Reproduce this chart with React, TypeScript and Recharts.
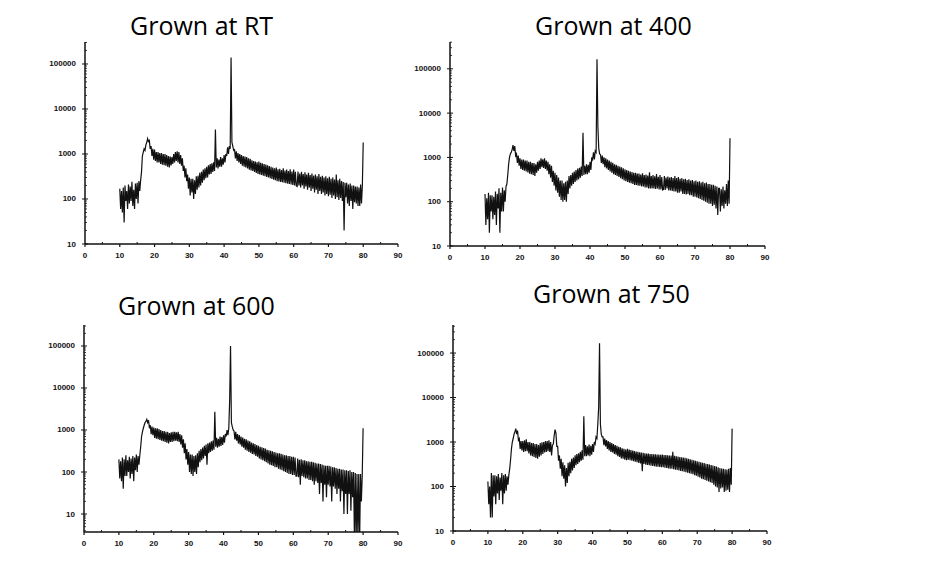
import React from "react";
import { LineChart, Line, XAxis, YAxis } from "recharts";

// 2-theta grid (deg), shared by all four scans: one row per degree
const TWO_THETA = [
  10, 10.25, 10.5, 10.75, 11, 11.25, 11.5, 11.75, 12, 12.25, 12.5, 12.75,
  13, 13.25, 13.5, 13.75, 14, 14.25, 14.5, 14.75, 15, 15.25, 15.5, 15.75,
  16, 16.25, 16.5, 16.75, 17, 17.25, 17.5, 17.75, 18, 18.25, 18.5, 18.75,
  19, 19.25, 19.5, 19.75, 20, 20.25, 20.5, 20.75, 21, 21.25, 21.5, 21.75,
  22, 22.25, 22.5, 22.75, 23, 23.25, 23.5, 23.75, 24, 24.25, 24.5, 24.75,
  25, 25.25, 25.5, 25.75, 26, 26.25, 26.5, 26.75, 27, 27.25, 27.5, 27.75,
  28, 28.25, 28.5, 28.75, 29, 29.25, 29.5, 29.75, 30, 30.25, 30.5, 30.75,
  31, 31.25, 31.5, 31.75, 32, 32.25, 32.5, 32.75, 33, 33.25, 33.5, 33.75,
  34, 34.25, 34.5, 34.75, 35, 35.25, 35.5, 35.75, 36, 36.25, 36.5, 36.75,
  37, 37.25, 37.5, 37.75, 38, 38.25, 38.5, 38.75, 39, 39.25, 39.5, 39.75,
  40, 40.25, 40.5, 40.75, 41, 41.25, 41.5, 41.75, 42, 42.25, 42.5, 42.75,
  43, 43.25, 43.5, 43.75, 44, 44.25, 44.5, 44.75, 45, 45.25, 45.5, 45.75,
  46, 46.25, 46.5, 46.75, 47, 47.25, 47.5, 47.75, 48, 48.25, 48.5, 48.75,
  49, 49.25, 49.5, 49.75, 50, 50.25, 50.5, 50.75, 51, 51.25, 51.5, 51.75,
  52, 52.25, 52.5, 52.75, 53, 53.25, 53.5, 53.75, 54, 54.25, 54.5, 54.75,
  55, 55.25, 55.5, 55.75, 56, 56.25, 56.5, 56.75, 57, 57.25, 57.5, 57.75,
  58, 58.25, 58.5, 58.75, 59, 59.25, 59.5, 59.75, 60, 60.25, 60.5, 60.75,
  61, 61.25, 61.5, 61.75, 62, 62.25, 62.5, 62.75, 63, 63.25, 63.5, 63.75,
  64, 64.25, 64.5, 64.75, 65, 65.25, 65.5, 65.75, 66, 66.25, 66.5, 66.75,
  67, 67.25, 67.5, 67.75, 68, 68.25, 68.5, 68.75, 69, 69.25, 69.5, 69.75,
  70, 70.25, 70.5, 70.75, 71, 71.25, 71.5, 71.75, 72, 72.25, 72.5, 72.75,
  73, 73.25, 73.5, 73.75, 74, 74.25, 74.5, 74.75, 75, 75.25, 75.5, 75.75,
  76, 76.25, 76.5, 76.75, 77, 77.25, 77.5, 77.75, 78, 78.25, 78.5, 78.75,
  79, 79.25, 79.5, 79.75, 80,
];

const INTENSITY_RT = [
  170, 60, 150, 50, 180, 30, 200, 90, 150, 60, 210, 80,
  190, 90, 240, 70, 160, 60, 220, 100, 230, 80, 250, 150,
  260, 400, 900, 1100, 1300, 1200, 1600, 1800, 2200, 1900, 2000, 1300,
  1500, 900, 1300, 750, 1250, 700, 1100, 650, 1100, 650, 1050, 600,
  1050, 580, 1000, 560, 1000, 550, 950, 520, 900, 500, 880, 560,
  850, 600, 1000, 650, 1100, 700, 1150, 650, 1100, 600, 950, 550,
  800, 420, 550, 300, 480, 250, 350, 170, 300, 120, 280, 140,
  280, 100, 260, 130, 320, 160, 330, 180, 380, 200, 400, 230,
  450, 260, 480, 290, 520, 300, 560, 350, 600, 360, 620, 400,
  650, 420, 3500, 500, 800, 480, 750, 520, 850, 520, 800, 580,
  950, 650, 1000, 900, 1400, 1000, 1500, 1300, 140000, 1800, 1500, 1200,
  1250, 800, 1150, 700, 1050, 650, 1000, 600, 950, 550, 900, 520,
  880, 500, 850, 480, 800, 450, 780, 430, 720, 420, 700, 400,
  680, 380, 650, 360, 680, 350, 640, 340, 620, 330, 600, 320,
  580, 310, 560, 300, 540, 290, 520, 280, 500, 270, 480, 260,
  500, 250, 460, 245, 470, 240, 440, 235, 480, 230, 430, 225,
  450, 220, 420, 215, 460, 210, 410, 205, 450, 200, 400, 195,
  190, 410, 200, 370, 180, 400, 200, 360, 170, 390, 190, 350,
  160, 380, 180, 340, 150, 370, 170, 330, 140, 350, 160, 320,
  130, 360, 150, 310, 130, 330, 140, 300, 120, 320, 130, 290,
  115, 310, 125, 280, 105, 300, 120, 270, 100, 350, 110, 260,
  95, 280, 105, 250, 90, 240, 20, 230, 110, 230, 80, 210,
  70, 220, 90, 200, 60, 200, 85, 190, 80, 190, 70, 180,
  70, 210, 80, 200, 1800,
];

const INTENSITY_400 = [
  150, 30, 120, 40, 160, 20, 140, 60, 140, 40, 130, 50,
  170, 30, 150, 70, 200, 20, 160, 60, 210, 60, 180, 100,
  220, 250, 400, 700, 1000, 1200, 1300, 1500, 1900, 1400, 1800, 1100,
  1200, 750, 1100, 650, 950, 550, 900, 520, 900, 500, 850, 480,
  850, 460, 800, 430, 800, 420, 750, 400, 750, 380, 700, 450,
  800, 500, 850, 550, 950, 600, 900, 580, 950, 550, 850, 500,
  800, 420, 700, 350, 650, 280, 500, 230, 450, 180, 400, 160,
  350, 130, 300, 110, 300, 100, 260, 110, 280, 100, 300, 150,
  380, 200, 400, 230, 450, 250, 480, 280, 520, 300, 560, 320,
  580, 350, 620, 380, 3600, 400, 650, 420, 700, 420, 680, 450,
  800, 520, 1000, 900, 1300, 900, 1400, 1300, 165000, 5000, 1600, 1200,
  1150, 750, 1100, 700, 1000, 600, 950, 560, 900, 520, 850, 480,
  800, 450, 760, 420, 700, 400, 680, 380, 650, 360, 620, 340,
  600, 320, 570, 300, 540, 290, 520, 280, 500, 270, 480, 260,
  470, 250, 450, 240, 450, 240, 430, 230, 430, 230, 410, 220,
  440, 220, 400, 210, 410, 210, 390, 200, 460, 200, 380, 200,
  400, 200, 375, 195, 420, 200, 365, 190, 400, 190, 360, 185,
  190, 380, 185, 350, 200, 370, 180, 350, 180, 360, 175, 340,
  170, 380, 170, 340, 160, 360, 160, 330, 170, 340, 150, 320,
  150, 330, 145, 310, 150, 320, 140, 300, 140, 310, 130, 290,
  130, 300, 125, 280, 120, 290, 115, 270, 110, 280, 105, 260,
  100, 270, 95, 250, 90, 250, 90, 240, 80, 240, 85, 230,
  70, 220, 50, 200, 200, 60, 190, 80, 220, 70, 180, 90,
  250, 80, 300, 90, 2700,
];

const INTENSITY_600 = [
  200, 70, 180, 60, 220, 40, 200, 80, 250, 80, 190, 100,
  230, 70, 210, 90, 240, 60, 220, 110, 260, 100, 240, 150,
  250, 400, 700, 900, 1100, 1300, 1500, 1600, 1800, 1500, 1700, 1100,
  1300, 800, 1200, 750, 1150, 650, 1100, 620, 1100, 600, 1050, 580,
  1000, 560, 950, 540, 950, 520, 900, 500, 900, 480, 850, 520,
  880, 520, 900, 540, 900, 560, 880, 540, 900, 520, 800, 450,
  750, 380, 600, 280, 480, 200, 350, 150, 300, 100, 260, 90,
  260, 80, 240, 100, 250, 90, 280, 130, 320, 170, 350, 190,
  380, 210, 420, 240, 450, 150, 480, 280, 500, 300, 540, 320,
  560, 340, 2700, 400, 650, 380, 620, 400, 700, 420, 680, 440,
  750, 500, 800, 700, 1000, 750, 1100, 5000, 100000, 1500, 1200, 1000,
  950, 600, 900, 560, 800, 480, 760, 450, 700, 400, 660, 380,
  620, 340, 600, 320, 560, 300, 540, 290, 500, 270, 480, 260,
  460, 240, 440, 230, 420, 210, 400, 200, 390, 190, 370, 180,
  360, 170, 340, 160, 330, 150, 320, 145, 310, 140, 300, 130,
  290, 130, 280, 120, 280, 115, 270, 110, 260, 105, 250, 100,
  250, 95, 240, 90, 240, 90, 230, 85, 230, 85, 220, 80,
  80, 210, 75, 195, 50, 200, 80, 190, 75, 190, 70, 180,
  70, 180, 65, 175, 65, 175, 60, 170, 50, 165, 60, 160,
  55, 160, 30, 155, 55, 150, 20, 145, 50, 140, 25, 140,
  50, 140, 45, 135, 20, 130, 45, 130, 40, 125, 30, 120,
  40, 120, 20, 115, 35, 115, 10, 110, 30, 110, 10, 105,
  30, 110, 12, 100, 25, 100, 3, 95, 2, 90, 3, 90,
  2, 90, 20, 85, 1100,
];

const INTENSITY_750 = [
  130, 40, 100, 20, 200, 20, 180, 60, 180, 40, 170, 70,
  190, 50, 160, 80, 200, 40, 180, 70, 190, 80, 170, 110,
  180, 250, 400, 700, 1000, 1200, 1500, 1700, 2000, 1500, 1800, 1100,
  1200, 700, 1050, 650, 1050, 600, 1100, 620, 1150, 620, 1000, 550,
  1000, 500, 950, 480, 950, 460, 900, 440, 900, 420, 850, 470,
  950, 500, 980, 540, 1000, 580, 1050, 600, 1050, 620, 1100, 600,
  1000, 500, 850, 900, 1400, 1900, 1600, 800, 800, 380, 500, 250,
  420, 170, 350, 150, 300, 100, 260, 120, 340, 170, 360, 200,
  420, 230, 450, 260, 500, 300, 540, 320, 560, 350, 600, 380,
  650, 400, 3800, 480, 850, 480, 800, 500, 880, 480, 820, 520,
  900, 600, 1000, 900, 1300, 1200, 2500, 6000, 165000, 2500, 1500, 1300,
  1300, 850, 1200, 800, 1100, 700, 1050, 650, 1000, 600, 950, 580,
  900, 540, 860, 520, 820, 480, 780, 460, 760, 430, 720, 420,
  700, 400, 680, 390, 700, 400, 680, 390, 660, 380, 640, 370,
  630, 360, 610, 350, 600, 340, 590, 330, 580, 220, 570, 320,
  560, 310, 550, 305, 550, 300, 540, 295, 540, 290, 530, 285,
  530, 280, 525, 280, 520, 275, 515, 270, 520, 270, 510, 265,
  510, 260, 505, 255, 500, 250, 495, 250, 600, 245, 490, 240,
  480, 235, 470, 230, 460, 225, 455, 220, 450, 215, 440, 210,
  430, 205, 420, 200, 410, 195, 400, 190, 390, 180, 380, 175,
  370, 165, 360, 160, 350, 150, 340, 145, 335, 140, 325, 135,
  320, 130, 310, 125, 305, 120, 295, 110, 290, 100, 280, 95,
  270, 75, 260, 90, 255, 95, 250, 75, 245, 80, 240, 85,
  250, 75, 260, 110, 2000,
];

const X_TICKS = [0, 5, 10, 15, 20, 25, 30, 35, 40, 45, 50, 55, 60, 65, 70, 75, 80, 85, 90];
const Y_DECADES = [1, 10, 100, 1000, 10000, 100000];

const INK = "#111111";
const TICK_FONT = "'Liberation Sans', Arial, sans-serif";

function buildRows(values: number[]) {
  return TWO_THETA.map((x, i) => ({ x, y: values[i] }));
}

function XTick(props: any) {
  const { x, y, payload } = props;
  const v = payload.value as number;
  if (v % 10 !== 0) {
    return <line x1={x} y1={y} x2={x} y2={y - 2} stroke={INK} strokeWidth={1} />;
  }
  return (
    <g>
      <line x1={x} y1={y} x2={x} y2={y + 3} stroke={INK} strokeWidth={1.2} />
      <text
        x={x}
        y={y + 11}
        textAnchor="middle"
        dominantBaseline="central"
        fontSize={8}
        fontWeight="bold"
        fontFamily={TICK_FONT}
        fill={INK}
      >
        {v}
      </text>
    </g>
  );
}

function YTick(props: any) {
  const { x, y, payload } = props;
  const v = payload.value as number;
  const major = Y_DECADES.includes(v) && v >= 10;
  if (!major) {
    return <line x1={x} y1={y} x2={x + 2} y2={y} stroke={INK} strokeWidth={0.8} />;
  }
  return (
    <g>
      <line x1={x - 3} y1={y} x2={x + 3} y2={y} stroke={INK} strokeWidth={1} />
      <text
        x={x - 9}
        y={y}
        textAnchor="end"
        dominantBaseline="central"
        fontSize={8}
        fontWeight="bold"
        fontFamily={TICK_FONT}
        fill={INK}
      >
        {v}
      </text>
    </g>
  );
}

type PanelProps = {
  values: number[];
  axisX: number; // page x of the y axis (2theta = 0)
  plotW: number;
  plotTop: number;
  plotH: number;
  yMin: number;
  yMax: number;
};

const Y_AXIS_W = 60;

function Panel({ values, axisX, plotW, plotTop, plotH, yMin, yMax }: PanelProps) {
  const data = buildRows(values);
  const yTicks: number[] = [];
  for (const d of Y_DECADES) {
    for (let m = 1; m <= 9; m++) {
      const t = d * m;
      if (t >= yMin && t <= yMax) yTicks.push(t);
    }
  }
  const top = 5;
  const width = Y_AXIS_W + plotW + 10;
  const height = top + plotH + 24;
  return (
    <div style={{ position: "absolute", left: axisX - Y_AXIS_W, top: plotTop - top }}>
      <LineChart width={width} height={height} data={data} margin={{ top, right: 10, bottom: 0, left: 0 }}>
        <XAxis
          dataKey="x"
          type="number"
          domain={[0, 90]}
          ticks={X_TICKS}
          interval={0}
          height={24}
          tickLine={false}
          tickSize={0}
          tickMargin={0}
          axisLine={{ stroke: INK, strokeWidth: 1.5 }}
          tick={<XTick />}
        />
        <YAxis
          type="number"
          scale="log"
          domain={[yMin, yMax]}
          allowDataOverflow
          ticks={yTicks}
          interval={0}
          width={Y_AXIS_W}
          tickLine={false}
          tickSize={0}
          tickMargin={0}
          axisLine={{ stroke: INK, strokeWidth: 1.5 }}
          tick={<YTick />}
        />
        <Line
          type="linear"
          dataKey="y"
          stroke={INK}
          strokeWidth={1.2}
          dot={false}
          isAnimationActive={false}
        />
      </LineChart>
    </div>
  );
}

const TITLE_STYLE: React.CSSProperties = {
  position: "absolute",
  fontFamily: "'Open Sans', 'Noto Sans', sans-serif",
  fontSize: 25,
  color: "#000",
  whiteSpace: "nowrap",
  lineHeight: 1,
};

export default function App() {
  return (
    <div style={{ position: "relative", width: 927, height: 583, margin: -8, background: "#fff", overflow: "hidden" }}>
      <div style={{ ...TITLE_STYLE, left: 130, top: 13 }}>Grown at RT</div>
      <div style={{ ...TITLE_STYLE, left: 535, top: 13 }}>Grown at 400</div>
      <div style={{ ...TITLE_STYLE, left: 118, top: 293 }}>Grown at 600</div>
      <div style={{ ...TITLE_STYLE, left: 533, top: 281 }}>Grown at 750</div>

      <Panel values={INTENSITY_RT} axisX={85} plotW={313} plotTop={42} plotH={202} yMin={10} yMax={308000} />
      <Panel values={INTENSITY_400} axisX={450} plotW={315} plotTop={42} plotH={204} yMin={10} yMax={403000} />
      <Panel values={INTENSITY_600} axisX={84} plotW={314} plotTop={325} plotH={207} yMin={3.73} yMax={316000} />
      <Panel values={INTENSITY_750} axisX={453} plotW={314} plotTop={325} plotH={206} yMin={10} yMax={427000} />
    </div>
  );
}
